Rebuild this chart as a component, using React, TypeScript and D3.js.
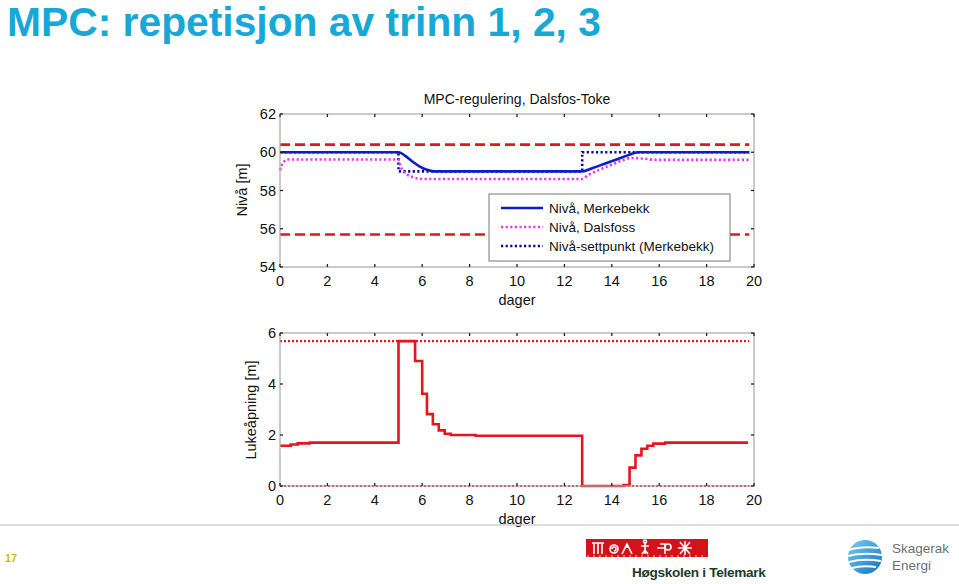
import React from "react";
import * as d3 from "d3";

// ---- data ----
const dayTicks = [0, 2, 4, 6, 8, 10, 12, 14, 16, 18, 20];
const levelTicks = [54, 56, 58, 60, 62];
const gateTicks = [0, 2, 4, 6];

// Nivå, Merkebekk [day, m]
const merkebekkDays = [0, 5.0, 5.3, 5.6, 5.9, 6.2, 6.5, 12.75, 13.2, 13.7, 14.2, 14.7, 15.1, 19.8];
const merkebekkLevel = [60, 60, 59.8, 59.5, 59.25, 59.08, 59.0, 59.0, 59.18, 59.4, 59.62, 59.85, 60, 60];

// Nivå, Dalsfoss
const dalsfossDays = [0, 0.08, 0.2, 0.3, 5.0, 5.05, 5.15, 5.35, 5.6, 5.85, 6.1, 12.75, 13.0, 13.5, 14.0, 14.5, 14.8, 15.3, 15.9, 19.8];
const dalsfossLevel = [59.05, 59.35, 59.55, 59.62, 59.62, 59.4, 59.1, 58.85, 58.7, 58.62, 58.6, 58.6, 58.8, 59.1, 59.35, 59.6, 59.7, 59.67, 59.6, 59.6];

// Nivå-settpunkt (Merkebekk)
const setpointDays = [0, 5.0, 5.0, 12.75, 12.75, 19.8];
const setpointLevel = [60, 60, 59.0, 59.0, 60, 60];

// level limits
const levelMax = 60.4;
const levelMin = 55.7;

// Lukeåpning (step changes) [day, m]
const gateDays = [0, 0.45, 0.75, 1.25, 5.0, 5.7, 6.0, 6.2, 6.45, 6.7, 6.95, 7.2, 8.25, 12.75, 14.5, 14.75, 15.0, 15.25, 15.5, 15.75, 16.25, 19.75];
const gateOpen = [1.58, 1.63, 1.67, 1.7, 5.68, 4.9, 3.62, 2.82, 2.42, 2.18, 2.05, 2.0, 1.97, 0.0, 0.04, 0.72, 1.2, 1.46, 1.58, 1.66, 1.7, 1.7];
const gateMax = 5.68;
const gateMin = 0;

const legendLabels = ["Nivå, Merkebekk", "Nivå, Dalsfoss", "Nivå-settpunkt (Merkebekk)"];

const FONT = "'Liberation Sans', Arial, Helvetica, sans-serif";
const BLUE = "#0a1ec8";
const MAGENTA = "#e23ce8";
const NAVY = "#0a0a96";
const RED = "#e3161e";

const x = d3.scaleLinear().domain([0, 20]).range([280, 754]);
const yLevel = d3.scaleLinear().domain([54, 62]).range([267, 114]);
const yGate = d3.scaleLinear().domain([0, 6]).range([486, 333]);

type P = [number, number];
const zip = (a: number[], b: number[]): P[] => a.map((d, i) => [d, b[i]]);

function Frame({ y, yTicks }: { y: d3.ScaleLinear<number, number>; yTicks: number[] }) {
  const [x0, x1] = x.range();
  const [y0, y1] = y.range();
  const t = 3;
  return (
    <g>
      <rect x={x0} y={y1} width={x1 - x0} height={y0 - y1} fill="none" stroke="#a8a8a8" strokeWidth={1.2} />
      {dayTicks.map((d) => (
        <g key={"x" + d} stroke="#222" strokeWidth={1.3}>
          <line x1={x(d)} x2={x(d)} y1={y0} y2={y0 - t} />
          <line x1={x(d)} x2={x(d)} y1={y1} y2={y1 + t} />
        </g>
      ))}
      {yTicks.map((v) => (
        <g key={"y" + v} stroke="#222" strokeWidth={1.3}>
          <line x1={x0} x2={x0 + t} y1={y(v)} y2={y(v)} />
          <line x1={x1} x2={x1 - t} y1={y(v)} y2={y(v)} />
        </g>
      ))}
      {dayTicks.map((d) => (
        <text key={"xl" + d} x={x(d)} y={y0 + 19} textAnchor="middle" fontSize={14.5} fill="#111">
          {d}
        </text>
      ))}
      {yTicks.map((v) => (
        <text key={"yl" + v} x={x0 - 4} y={y(v) + 5} textAnchor="end" fontSize={14.5} fill="#111">
          {v}
        </text>
      ))}
      <text x={(x0 + x1) / 2} y={y0 + 38} textAnchor="middle" fontSize={14.5} fill="#111">
        dager
      </text>
    </g>
  );
}

export default function App() {
  const lvl = d3.line<P>().x((d) => x(d[0])).y((d) => yLevel(d[1]));
  const smooth = d3.line<P>().x((d) => x(d[0])).y((d) => yLevel(d[1])).curve(d3.curveMonotoneX);
  const gate = d3.line<P>().x((d) => x(d[0])).y((d) => yGate(d[1])).curve(d3.curveStepAfter);
  const gLine = d3.line<P>().x((d) => x(d[0])).y((d) => yGate(d[1]));

  const legendX = 489;
  const legendY = 194;
  const legendStyles = [
    { stroke: BLUE, dash: undefined as string | undefined },
    { stroke: MAGENTA, dash: "2.2 2.4" },
    { stroke: NAVY, dash: "2.2 2.4" },
  ];

  return (
    <svg
      width={959}
      height={584}
      viewBox="0 0 959 584"
      style={{ position: "absolute", left: 0, top: 0, background: "#fff" }}
      fontFamily={FONT}
    >
      <rect width={959} height={584} fill="#fff" />
      <text x={7} y={36} fontSize={40.8} fontWeight="bold" fill="#17a8d8">
        MPC: repetisjon av trinn 1, 2, 3
      </text>

      {/* upper chart: levels */}
      <text x={517} y={104} textAnchor="middle" fontSize={14} fill="#111">
        MPC-regulering, Dalsfos-Toke
      </text>
      <text transform="translate(247,190) rotate(-90)" textAnchor="middle" fontSize={14.5} fill="#111">
        Nivå [m]
      </text>
      <g fill="none" strokeWidth={2.6}>
        <path d={lvl(zip([0, 19.8], [levelMax, levelMax])) || ""} stroke={RED} strokeDasharray="10 5" />
        <path d={lvl(zip([0, 19.8], [levelMin, levelMin])) || ""} stroke={RED} strokeDasharray="10 5" />
        <path d={lvl(zip(setpointDays, setpointLevel)) || ""} stroke={NAVY} strokeDasharray="2.2 2.4" />
        <path d={smooth(zip(dalsfossDays, dalsfossLevel)) || ""} stroke={MAGENTA} strokeDasharray="2.2 2.4" />
        <path d={smooth(zip(merkebekkDays, merkebekkLevel)) || ""} stroke={BLUE} />
      </g>
      <Frame y={yLevel} yTicks={levelTicks} />

      <g>
        <rect x={legendX} y={legendY} width={241} height={67} fill="#fff" stroke="#777" strokeWidth={1} />
        {legendLabels.map((lab, i) => {
          const cy = legendY + 14 + i * 19;
          return (
            <g key={lab}>
              <line
                x1={legendX + 12}
                x2={legendX + 54}
                y1={cy}
                y2={cy}
                stroke={legendStyles[i].stroke}
                strokeWidth={2.6}
                strokeDasharray={legendStyles[i].dash}
              />
              <text x={legendX + 60} y={cy + 5} fontSize={13.5} fill="#111">
                {lab}
              </text>
            </g>
          );
        })}
      </g>

      {/* lower chart: gate opening */}
      <text transform="translate(256,410) rotate(-90)" textAnchor="middle" fontSize={14.5} fill="#111">
        Lukeåpning [m]
      </text>
      <g fill="none">
        <path d={gLine(zip([0, 19.8], [gateMax, gateMax])) || ""} stroke={RED} strokeWidth={2.2} strokeDasharray="2 2" />
        <path d={gLine(zip([0, 19.8], [gateMin, gateMin])) || ""} stroke={RED} strokeWidth={2.2} strokeDasharray="2 2" />
        <path d={gate(zip(gateDays, gateOpen)) || ""} stroke={RED} strokeWidth={2.6} />
      </g>
      <Frame y={yGate} yTicks={gateTicks} />

      {/* slide footer */}
      <line x1={0} x2={959} y1={525} y2={525} stroke="#d0d0d0" strokeWidth={1.5} />
      <text x={5} y={562} fontSize={11} fontWeight="bold" fill="#c9c200">
        17
      </text>

      <g>
        <rect x={586} y={539} width={122} height={18} fill="#d5121b" />
        <g stroke="#fff" strokeWidth={1.6} fill="none">
          <path d="M592 543 h12 M594 543 v11 M598 543 v11 M602 543 v11" />
          <circle cx={614} cy={549} r={4} />
          <path d="M612 549 a2 2 0 1 1 2 2" />
          <path d="M622 554 l5 -10 l5 10 M627 544 v4" />
          <path d="M645 542 v12 M641 546 h8 M642 554 l3 -4 l3 4" />
          <circle cx={645} cy={541.5} r={1.5} />
          <path d="M660 544 l5 0 l0 10 M657 548 h8" />
          <circle cx={668} cy={547} r={3} />
          <path d="M680 542 l10 12 M690 542 l-10 12 M678 548 h14 M685 541 v14" />
        </g>
        <g stroke="#fff" strokeWidth={0.8}>
          {d3.range(588, 708, 6).map((px) => (
            <line key={px} x1={px} x2={px} y1={555} y2={557} />
          ))}
        </g>
        <text x={632} y={577} fontSize={13.6} fontWeight="bold" fill="#1d3a2c" letterSpacing={-0.3}>
          Høgskolen i Telemark
        </text>
      </g>

      <g>
        <defs>
          <linearGradient id="sk" x1="0" y1="0" x2="1" y2="1">
            <stop offset="0" stopColor="#7ccdf2" />
            <stop offset="1" stopColor="#1170c0" />
          </linearGradient>
        </defs>
        <circle cx={865} cy={557} r={17} fill="url(#sk)" />
        <g stroke="#fff" strokeWidth={2} fill="none">
          <path d="M849 550 q12 -4 30 -2" />
          <path d="M848 556 q14 -4 34 -1" />
          <path d="M849 562 q14 -4 32 -1" />
          <path d="M852 568 q10 -3 24 -1" />
        </g>
        <text x={892} y={553} fontSize={13.5} fill="#6b7076">
          Skagerak
        </text>
        <text x={892} y={570} fontSize={13.5} fill="#6b7076">
          Energi
        </text>
      </g>
    </svg>
  );
}
